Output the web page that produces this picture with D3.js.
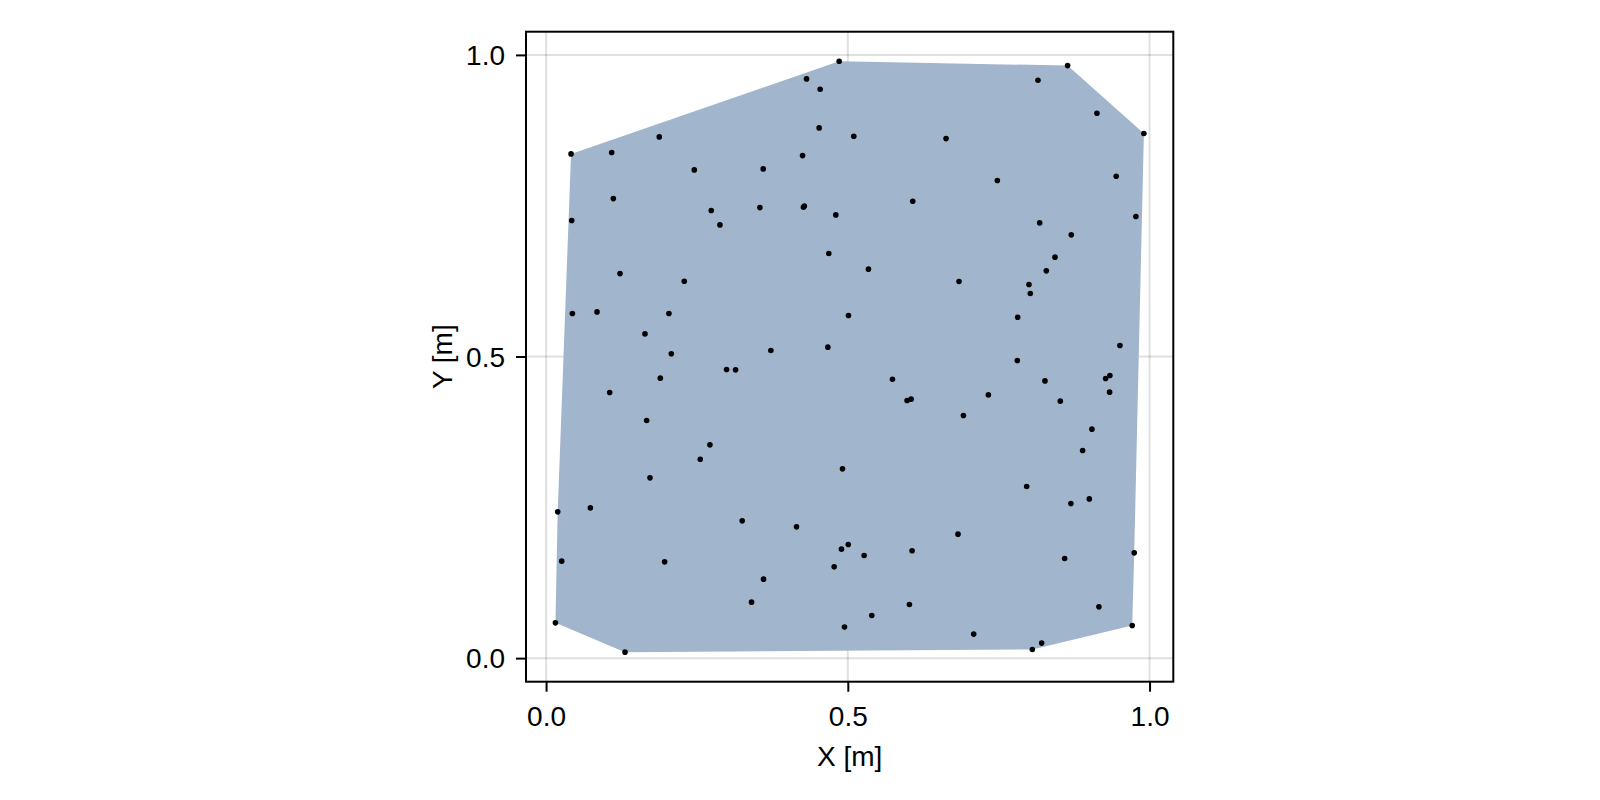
<!DOCTYPE html>
<html>
<head>
<meta charset="utf-8">
<script src="https://cdn.jsdelivr.net/npm/d3@7"></script>
<style>
  html, body { margin: 0; padding: 0; background: #fff; }
  svg { display: block; }
  text { font-family: "Liberation Sans", Arial, Helvetica, sans-serif; fill: #000; }
</style>
</head>
<body>
<svg id="chart" width="1600" height="800"></svg>
<script>
// Point coordinates (metres)
const xs = [
  0.4857, 0.4316, 0.4542, 0.4525, 0.1876, 0.0414, 0.1087, 0.4250, 0.2456, 0.3598,
  0.1115, 0.2737, 0.3543, 0.4265, 0.4280, 0.4801, 0.0425, 0.2881, 0.4685, 0.1225,
  0.2290, 0.0436, 0.0844, 0.2036, 0.5011, 0.1639, 0.3725, 0.4669, 0.2075,
  0.2991, 0.3140, 0.1893, 0.1054, 0.1667, 0.2715, 0.2555, 0.4912, 0.1722, 0.0193,
  0.0734, 0.3250, 0.4150, 0.5008, 0.4895, 0.0259, 0.1965, 0.4774, 0.3604, 0.3405,
  0.0155, 0.4945, 0.1308,
  0.8642, 0.8151, 0.9128, 0.9906, 0.5099, 0.6628, 0.9448, 0.7478, 0.6076, 0.9773,
  0.8179, 0.8703, 0.8433, 0.8289, 0.5342, 0.6843, 0.8002, 0.8024, 0.7815, 0.9509,
  0.7809, 0.5740, 0.8267, 0.9272, 0.9343, 0.9338, 0.7329, 0.5982, 0.6049, 0.8521,
  0.6915, 0.9045, 0.8891, 0.7964, 0.9002, 0.8697, 0.6826, 0.5270, 0.6065, 0.9746,
  0.8593, 0.6021, 0.5397, 0.9161, 0.7086, 0.9713, 0.8212, 0.8058
];
const ys = [
  0.9895, 0.9602, 0.9431, 0.8790, 0.8641, 0.8359, 0.8381, 0.8331, 0.8094, 0.8110,
  0.7618, 0.7420, 0.7469, 0.7475, 0.7495, 0.7348, 0.7254, 0.7182, 0.6707, 0.6375,
  0.6249, 0.5712, 0.5740, 0.5712, 0.5679, 0.5375, 0.5099, 0.5155, 0.5045,
  0.4784, 0.4779, 0.4641, 0.4403, 0.3939, 0.3536, 0.3298, 0.3138, 0.2989, 0.2425,
  0.2491, 0.2276, 0.2176, 0.1883, 0.1807, 0.1608, 0.1596, 0.1513, 0.1309, 0.0928,
  0.0585, 0.0514, 0.0099,
  0.9823, 0.9580, 0.9034, 0.8696, 0.8652, 0.8613, 0.7989, 0.7917, 0.7575, 0.7320,
  0.7215, 0.7017, 0.6647, 0.6420, 0.6448, 0.6243, 0.6193, 0.6044, 0.5652, 0.5182,
  0.4933, 0.4624, 0.4596, 0.4635, 0.4685, 0.4409, 0.4364, 0.4270, 0.4293, 0.4260,
  0.4021, 0.3796, 0.3441, 0.2845, 0.2640, 0.2563, 0.2055, 0.1701, 0.1779, 0.1745,
  0.1651, 0.0889, 0.0706, 0.0850, 0.0398, 0.0540, 0.0249, 0.0143
];
const xTicks = [0.0, 0.5, 1.0];
const yTicks = [0.0, 0.5, 1.0];
const xTickLabels = ["0.0", "0.5", "1.0"];
const yTickLabels = ["0.0", "0.5", "1.0"];
const xLabel = "X [m]";
const yLabel = "Y [m]";

const points = xs.map((x, i) => [x, ys[i]]);

const box = { left: 526, top: 31.7, right: 1173.3, bottom: 681.7 };
const fontSize = 28;

function paddedExtent(arr) {
  const [lo, hi] = d3.extent(arr);
  const m = (hi - lo) * 0.05;
  return [lo - m, hi + m];
}

const x = d3.scaleLinear().domain(paddedExtent(xs)).range([box.left, box.right]);
const y = d3.scaleLinear().domain(paddedExtent(ys)).range([box.bottom, box.top]);

const svg = d3.select("#chart");

// grid
const grid = svg.append("g").attr("stroke", "rgba(0,0,0,0.12)").attr("stroke-width", 2);
grid.selectAll("line.gx").data(xTicks).join("line")
  .attr("x1", d => x(d)).attr("x2", d => x(d))
  .attr("y1", box.top).attr("y2", box.bottom);
grid.selectAll("line.gy").data(yTicks).join("line")
  .attr("y1", d => y(d)).attr("y2", d => y(d))
  .attr("x1", box.left).attr("x2", box.right);

// convex hull
const hull = d3.polygonHull(points.map(p => [x(p[0]), y(p[1])]));
svg.append("path")
  .attr("d", "M" + hull.map(p => p.join(",")).join("L") + "Z")
  .attr("fill", "#a1b5cd")
  .attr("stroke", "none");

// points
svg.append("g").selectAll("circle").data(points).join("circle")
  .attr("cx", d => x(d[0])).attr("cy", d => y(d[1]))
  .attr("r", 2.8).attr("fill", "#000");

// axes
const xAxis = d3.axisBottom(x).tickValues(xTicks).tickSize(10).tickPadding(12)
  .tickFormat((d, i) => xTickLabels[i]);
const yAxis = d3.axisLeft(y).tickValues(yTicks).tickSize(10).tickPadding(11)
  .tickFormat((d, i) => yTickLabels[i]);

const gx = svg.append("g").attr("transform", `translate(0,${box.bottom})`).call(xAxis);
const gy = svg.append("g").attr("transform", `translate(${box.left},0)`).call(yAxis);
[gx, gy].forEach(g => {
  g.select(".domain").remove();
  g.selectAll(".tick line").attr("stroke", "#000").attr("stroke-width", 2);
  g.selectAll(".tick text").attr("font-size", fontSize)
    .attr("font-family", '"Liberation Sans", Arial, sans-serif').attr("fill", "#000");
});
gx.selectAll(".tick text").attr("dy", null).attr("y", null).attr("dominant-baseline", null)
  .attr("transform", null).each(function() { d3.select(this).attr("y", 44); });
gy.selectAll(".tick text").attr("dy", "0.35em");

// frame
svg.append("rect")
  .attr("x", box.left).attr("y", box.top)
  .attr("width", box.right - box.left).attr("height", box.bottom - box.top)
  .attr("fill", "none").attr("stroke", "#000").attr("stroke-width", 2);

// axis labels
svg.append("text")
  .attr("x", (box.left + box.right) / 2).attr("y", 766)
  .attr("text-anchor", "middle").attr("font-size", fontSize)
  .text(xLabel);
svg.append("text")
  .attr("transform", `translate(452,${(box.top + box.bottom) / 2}) rotate(-90)`)
  .attr("text-anchor", "middle").attr("font-size", fontSize)
  .text(yLabel);
</script>
</body>
</html>
